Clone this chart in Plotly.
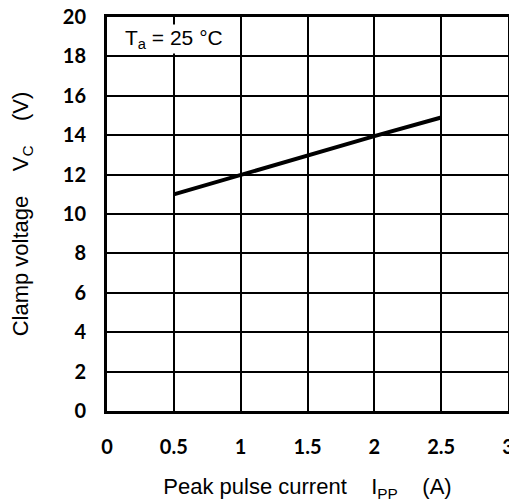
import plotly.graph_objects as go

current_a = [0.5, 1.0, 1.5, 2.0, 2.5]
clamp_v = [11.0, 12.0, 12.95, 13.95, 14.9]
x_ticks = [0, 0.5, 1, 1.5, 2, 2.5, 3]
x_tick_labels = ["0", "0.5", "1", "1.5", "2", "2.5", "3"]
y_ticks = [0, 2, 4, 6, 8, 10, 12, 14, 16, 18, 20]
y_tick_labels = [str(v) for v in y_ticks]

fig = go.Figure()
fig.add_trace(go.Scatter(x=current_a, y=clamp_v, mode="lines",
                         line=dict(color="black", width=4), showlegend=False,
                         cliponaxis=False))

tickfont = dict(family="Lato", size=20, color="black", weight="bold")
titlefont = dict(family="Liberation Sans", size=22, color="black")
fig.update_xaxes(range=[0, 3], tickvals=x_ticks, ticktext=x_tick_labels,
                 showgrid=True, gridcolor="black", gridwidth=2.3,
                 showline=True, linecolor="black", linewidth=3, mirror=True,
                 ticks="", zeroline=False, tickfont=tickfont, ticklabelstandoff=16,
                 automargin=False, ticklabeloverflow="allow",
                 title=dict(text="Peak pulse current    I<sub>PP</sub>    (A)",
                            font=titlefont, standoff=22))
fig.update_yaxes(range=[0, 20], tickvals=y_ticks, ticktext=y_tick_labels,
                 showgrid=True, gridcolor="black", gridwidth=2.3,
                 showline=True, linecolor="black", linewidth=3, mirror=True,
                 ticks="", zeroline=False, tickfont=tickfont, ticklabelstandoff=14,
                 automargin=False, ticklabeloverflow="allow",
                 title=dict(text="Clamp voltage    V<sub>C</sub>    (V)",
                            font=titlefont, standoff=30))
fig.add_annotation(x=0.12, y=18.9, xref="x", yref="y", xanchor="left", yanchor="middle",
                   text="T<sub>a</sub> = 25 °C", showarrow=False, bgcolor="white",
                   font=dict(family="Liberation Sans", size=21, color="black"), borderpad=1)

fig.update_layout(width=517, height=502, margin=dict(l=99, r=17, t=9, b=99),
                  plot_bgcolor="white", paper_bgcolor="white")
fig.write_html("out.html")
